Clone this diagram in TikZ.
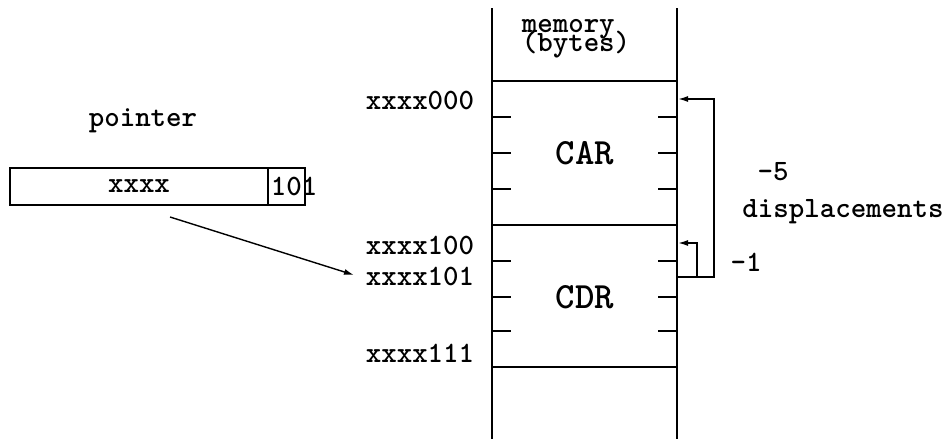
\documentclass[tikz,border=0pt]{standalone}
\usetikzlibrary{arrows.meta}
\begin{document}
\begin{tikzpicture}[x=1pt,y=-1pt,line width=1.6pt,
  lbl/.style={font=\fontsize{29.5}{33}\selectfont\ttfamily\bfseries,inner sep=0pt},
  big/.style={font=\fontsize{37}{40}\selectfont\ttfamily\bfseries,inner sep=0pt},
  arr/.style={-{Latex[length=10pt,width=6pt]}}]
\useasboundingbox (0,0) rectangle (945,439);
% memory column
\draw (492,8) -- (492,439);
\draw (677,8) -- (677,439);
\foreach \y in {81,225,367} \draw (492,\y) -- (677,\y);
\foreach \y in {117,153,189,261,297,331} {
  \draw (492,\y) -- (511,\y);
  \draw (658,\y) -- (677,\y);
}
\node[lbl,anchor=base west] (mem) at (521,32) {memory};
\node[lbl,anchor=base west] (byt) at (521,51) {(bytes)};
\node[big] (car) at (585,153) {CAR};
\node[big] (cdr) at (585,297) {CDR};
% address labels
\node[lbl,anchor=east] (a000) at (475,100) {xxxx000};
\node[lbl,anchor=east] (a100) at (475,245) {xxxx100};
\node[lbl,anchor=east] (a101) at (475,276) {xxxx101};
\node[lbl,anchor=east] (a111) at (475,353) {xxxx111};
% pointer
\node[lbl] (ptr) at (143,121) {pointer};
\draw (10,168) rectangle (305,205);
\draw (268,168) -- (268,205);
\node[lbl] (xxxx) at (139,186) {xxxx};
\node[lbl,anchor=west] (tag) at (270,186) {101};
\coordinate (ps) at (170,217);
\coordinate (pe) at (354,275);
\draw[arr,line width=1.4pt] (ps) -- (pe);
% displacements
\coordinate (src) at (677,277);
\coordinate (t5) at (678,99);
\coordinate (t1) at (678,243);
\draw[arr] (src) -- (714,277) -- (714,99) -- (t5);
\draw[arr] (697,277) -- (697,243) -- (t1);
\node[lbl] (m5) at (773,172) {-5};
\node[lbl] (disp) at (843,212) {displacements};
\node[lbl] (m1) at (746,262) {-1};
\end{tikzpicture}
\end{document}
